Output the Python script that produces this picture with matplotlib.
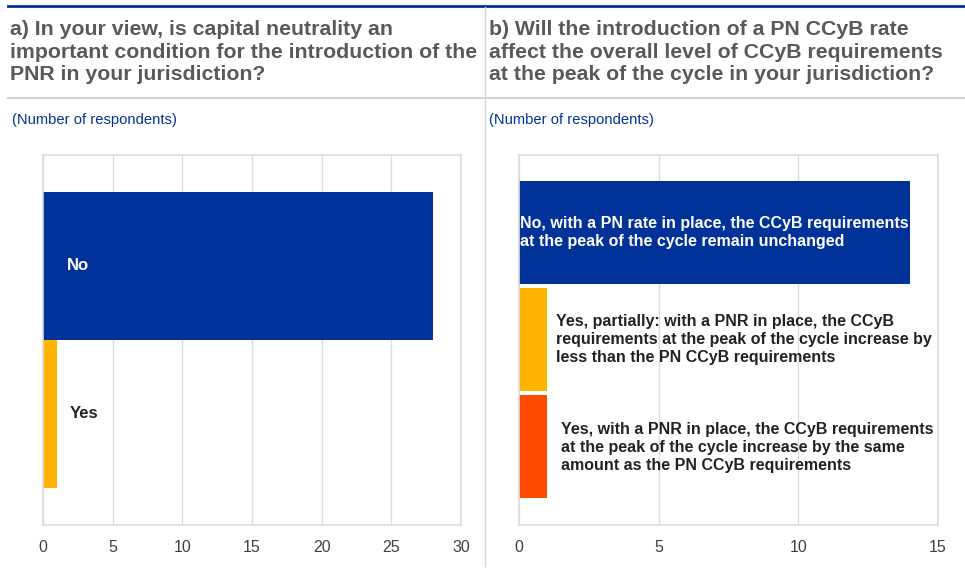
import matplotlib.pyplot as plt
from matplotlib.lines import Line2D

plt.rcParams['font.family'] = ['Liberation Sans', 'DejaVu Sans']

# panel a
a_labels = ['No', 'Yes']
a_values = [28, 1]
a_colors = ['#003299', '#ffb400']
a_ticks = [0, 5, 10, 15, 20, 25, 30]

# panel b
b_labels = ['No, with a PN rate in place, the CCyB requirements\nat the peak of the cycle remain unchanged',
            'Yes, partially: with a PNR in place, the CCyB\nrequirements at the peak of the cycle increase by\nless than the PN CCyB requirements',
            'Yes, with a PNR in place, the CCyB requirements\nat the peak of the cycle increase by the same\namount as the PN CCyB requirements']
b_values = [14, 1, 1]
b_colors = ['#003299', '#ffb400', '#ff4b00']
b_ticks = [0, 5, 10, 15]

title_a = 'a) In your view, is capital neutrality an\nimportant condition for the introduction of the\nPNR in your jurisdiction?'
title_b = 'b) Will the introduction of a PN CCyB rate\naffect the overall level of CCyB requirements\nat the peak of the cycle in your jurisdiction?'
subtitle = '(Number of respondents)'

W, H = 965, 573
fig = plt.figure(figsize=(W / 100, H / 100), dpi=100)

def px(x0, y0, x1, y1):
    return [x0 / W, 1 - y1 / H, (x1 - x0) / W, (y1 - y0) / H]

grid_col = '#dcdcdc'

# decoration lines
fig.add_artist(Line2D([8 / W, 1], [1 - 5.5 / H] * 2, color='#003299', lw=2, transform=fig.transFigure))
fig.add_artist(Line2D([8 / W, 1], [1 - 98 / H] * 2, color='#d4d4d4', lw=1.5, transform=fig.transFigure))
fig.add_artist(Line2D([485 / W] * 2, [1 - 7 / H, 1 - 566 / H], color='#d4d4d4', lw=1, transform=fig.transFigure))

# titles: line centres at about 28, 52, 76 px
fig.text(10 / W, 1 - 52 / H, title_a, fontsize=15.3, fontweight='bold', color='#595959',
         va='center', ha='left', linespacing=1.26)
fig.text(489 / W, 1 - 52 / H, title_b, fontsize=15.3, fontweight='bold', color='#595959',
         va='center', ha='left', linespacing=1.26)
fig.text(12 / W, 1 - 120 / H, subtitle, fontsize=10.6, color='#003299', va='center', ha='left')
fig.text(489 / W, 1 - 120 / H, subtitle, fontsize=10.6, color='#003299', va='center', ha='left')


def style(ax, ticks):
    ax.set_xlim(ticks[0], ticks[-1])
    ax.set_xticks(ticks)
    ax.set_yticks([])
    ax.grid(axis='x', color=grid_col, lw=1)
    ax.set_axisbelow(True)
    for s in ax.spines.values():
        s.set_color(grid_col)
        s.set_linewidth(1.2)
    ax.tick_params(axis='x', length=0, pad=11, labelsize=11.5, labelcolor='#404040')


ax1 = fig.add_axes(px(43, 155, 461, 525))
ax1.barh(range(len(a_values)), a_values, height=1.0, color=a_colors)
ax1.set_ylim(1.75, -0.75)
style(ax1, a_ticks)
ax1.text(1.72, 0, a_labels[0], color='white', fontsize=12, fontweight='bold', va='center', ha='left')
ax1.text(1.94, 1, a_labels[1], color='#222222', fontsize=12, fontweight='bold', va='center', ha='left')

ax2 = fig.add_axes(px(519, 155, 938, 525))
ax2.barh(range(len(b_values)), b_values, height=0.96, color=b_colors)
ax2.set_ylim(2.73, -0.72)
style(ax2, b_ticks)
b_x = [0.04, 1.32, 1.5]
b_y = [0.0, 0.0, 0.01]
b_tc = ['white', '#222222', '#222222']
for i, lab in enumerate(b_labels):
    ax2.text(b_x[i], i + b_y[i], lab, color=b_tc[i], fontsize=11.5, fontweight='bold',
             va='center', ha='left', linespacing=1.24)

fig.savefig('out.png', dpi=100)
